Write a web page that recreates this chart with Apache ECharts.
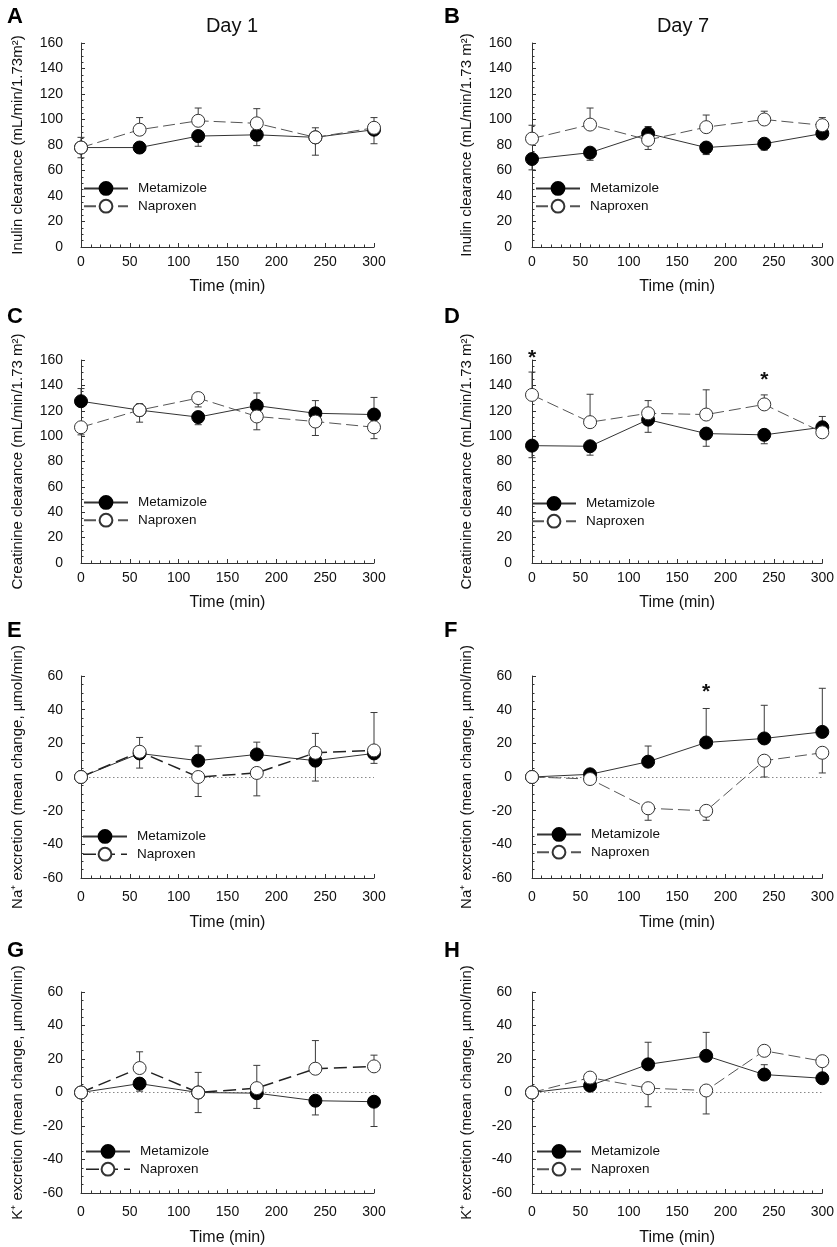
<!DOCTYPE html>
<html>
<head>
<meta charset="utf-8">
<script src="https://cdn.jsdelivr.net/npm/echarts@6/dist/echarts.min.js"></script>
<style>
html,body{margin:0;padding:0;background:#fff;}
#chart{width:837px;height:1247px;}
</style>
</head>
<body>
<div id="chart"></div>
<script>
// ---- data ----
const times = [0, 60, 120, 180, 240, 300];
const seriesNames = ['Metamizole', 'Naproxen'];
const panelLetters = ['A', 'B', 'C', 'D', 'E', 'F', 'G', 'H'];
const dayTitles = ['Day 1', 'Day 7'];
const yNames = [
  'Inulin clearance (mL/min/1.73m²)',
  'Inulin clearance (mL/min/1.73 m²)',
  'Creatinine clearance (mL/min/1.73 m²)',
  'Creatinine clearance (mL/min/1.73 m²)',
  'Na⁺ excretion (mean change, µmol/min)',
  'Na⁺ excretion (mean change, µmol/min)',
  'K⁺ excretion (mean change, µmol/min)',
  'K⁺ excretion (mean change, µmol/min)'
];
const xName = 'Time (min)';

// Panel A: inulin clearance, day 1
const metA = [78, 78, 87, 88, 86, 92];
const napA = [78, 92, 99, 97, 86, 93.5];
const metAErr = [70, 75, 79, 79.5, 72, 81];
const napAErr = [86, 101.5, 109, 108.5, 93.5, 101.5];
// Panel B: inulin clearance, day 7
const metB = [69, 74, 89, 78, 81, 89];
const napB = [85, 96, 84, 94, 100, 95.5];
const metBErr = [60.5, 68, 94.5, 72.5, 76, 85];
const napBErr = [95.5, 109, 76.5, 103.5, 106.5, 101.5];
// Panel C: creatinine clearance, day 1
const metC = [127.5, 120.5, 115, 124, 118, 117];
const napC = [107, 120.5, 130, 115.5, 111.5, 107];
const metCErr = [137.5, 111, 109, 134, 128, 130.5];
const napCErr = [101, 125.5, 123, 105, 100.5, 98];
// Panel D: creatinine clearance, day 7
const metD = [92.5, 92, 113, 102, 101, 107];
const napD = [132.5, 111, 118, 117, 125, 103];
const metDErr = [83, 85, 103, 92, 94, 115.5];
const napDErr = [150.5, 133, 128, 136.5, 132.5, 103];
// Panel E: Na+ excretion, day 1
const metE = [0, 14, 9.7, 13.4, 9.7, 14];
const napE = [0, 15, 0, 2.4, 14.4, 15.8];
const metEErr = [0, 5.3, 18.4, 20.7, -2.4, 8.1];
const napEErr = [0, 23.5, -11.6, -11.2, 25.9, 38.3];
// Panel F: Na+ excretion, day 7
const metF = [0, 1.6, 9.1, 20.5, 22.9, 26.8];
const napF = [0, -1.2, -18.6, -20.1, 9.7, 14.4];
const metFErr = [0, 1.6, 18.4, 40.7, 42.6, 52.7];
const napFErr = [0, -1.2, -25.7, -25.7, 0, 2.4];
// Panel G: K+ excretion, day 1
const metG = [0, 5.3, 0, -0.4, -4.9, -5.5];
const napG = [0, 14.6, 0, 2.6, 14.2, 15.6];
const metGErr = [0, 0.8, -12, -9.5, -13.4, -20.3];
const napGErr = [0, 24.3, 12, 16.2, 31, 22.3];
// Panel H: K+ excretion, day 7
const metH = [0, 4.1, 16.8, 21.9, 10.7, 8.5];
const napH = [0, 8.9, 2.6, 1.2, 24.9, 18.7];
const metHErr = [0, 4.1, 30, 35.9, 16.6, 15.6];
const napHErr = [0, 8.9, -8.5, -12.8, 24.9, 18.7];

// significance markers
const starsD = [[0, 161.5], [240, 144]];
const starsF = [[180, 50.3]];

const clearanceRange = [0, 160];
const excretionRange = [-60, 60];

// ---- layout ----
const FONT = 'Liberation Sans, Arial, Helvetica, sans-serif';
const colX = [81, 532];
const plotW = 293;
const rowTop = [43, 360, 676, 992];
const rowH = [204, 203, 202, 202];
const letterTop = [1, 301, 615, 935];
const legendPos = [
  [83, 180], [535, 180], [83, 494], [531, 495],
  [82, 828], [536, 826], [85, 1143], [536, 1143]
];

const panels = [
  {met: metA, nap: napA, metErr: metAErr, napErr: napAErr, range: clearanceRange, stars: []},
  {met: metB, nap: napB, metErr: metBErr, napErr: napBErr, range: clearanceRange, stars: []},
  {met: metC, nap: napC, metErr: metCErr, napErr: napCErr, range: clearanceRange, stars: []},
  {met: metD, nap: napD, metErr: metDErr, napErr: napDErr, range: clearanceRange, stars: starsD},
  {met: metE, nap: napE, metErr: metEErr, napErr: napEErr, range: excretionRange, stars: [], heavy: true},
  {met: metF, nap: napF, metErr: metFErr, napErr: napFErr, range: excretionRange, stars: starsF},
  {met: metG, nap: napG, metErr: metGErr, napErr: napGErr, range: excretionRange, stars: [], heavy: true},
  {met: metH, nap: napH, metErr: metHErr, napErr: napHErr, range: excretionRange, stars: []}
];

function renderErr(params, api) {
  const x = api.value(0), m = api.value(1), e = api.value(2);
  if (m === e) return null;
  const p1 = api.coord([x, m]);
  const p2 = api.coord([x, e]);
  const w = 3.5;
  const st = {stroke: '#3a3a3a', lineWidth: 1};
  return {
    type: 'group',
    children: [
      {type: 'line', shape: {x1: p1[0], y1: p1[1], x2: p2[0], y2: p2[1]}, style: st},
      {type: 'line', shape: {x1: p2[0] - w, y1: p2[1], x2: p2[0] + w, y2: p2[1]}, style: st}
    ]
  };
}

function renderStar(params, api) {
  const p = api.coord([api.value(0), api.value(1)]);
  return {
    type: 'text',
    style: {x: p[0], y: p[1], text: '*', fill: '#111', align: 'center', verticalAlign: 'middle',
      font: 'bold 21px ' + FONT}
  };
}

const grid = [], xAxis = [], yAxis = [], series = [], legend = [], title = [];

panels.forEach((p, i) => {
  const col = i % 2, row = Math.floor(i / 2);
  const excretion = row >= 2;
  grid.push({left: colX[col], top: rowTop[row], width: plotW, height: rowH[row], containLabel: false});
  xAxis.push({
    type: 'value', gridIndex: i, min: 0, max: 300, interval: 50,
    name: xName, nameLocation: 'middle', nameGap: excretion ? 37 : 32,
    nameTextStyle: {fontSize: 16, color: '#111', fontFamily: FONT},
    axisLine: {onZero: false, lineStyle: {color: '#333', width: 1}},
    axisTick: {show: true, inside: true, length: 4, lineStyle: {color: '#333'}},
    minorTick: {show: true, splitNumber: 5, length: 2.5, lineStyle: {color: '#333'}},
    axisLabel: {fontSize: 14, color: '#111', margin: excretion ? 12 : 8, fontFamily: FONT},
    splitLine: {show: false}
  });
  yAxis.push({
    type: 'value', gridIndex: i, min: p.range[0], max: p.range[1], interval: 20,
    offset: col === 0 ? 14 : 16,
    name: yNames[i], nameLocation: 'middle', nameGap: 42,
    nameTextStyle: {fontSize: 15, color: '#111', fontFamily: FONT},
    axisLine: {show: true, lineStyle: {color: '#333', width: 1}},
    axisTick: {show: true, inside: true, length: 4, lineStyle: {color: '#333'}},
    minorTick: {show: true, splitNumber: 4, length: 2.5, lineStyle: {color: '#333'}},
    axisLabel: {fontSize: 14, color: '#111', margin: 4, fontFamily: FONT},
    splitLine: {show: false}
  });

  const napLine = p.heavy
    ? {color: '#222', width: 1.5, type: [13, 6]}
    : {color: '#555', width: 1, type: [12, 5]};

  // error bars (behind markers)
  series.push({
    type: 'custom', name: 'Metamizole SE', xAxisIndex: i, yAxisIndex: i, z: 1, clip: false, silent: true,
    renderItem: renderErr, data: times.map((t, k) => [t, p.met[k], p.metErr[k]])
  });
  series.push({
    type: 'custom', name: 'Naproxen SE', xAxisIndex: i, yAxisIndex: i, z: 1, clip: false, silent: true,
    renderItem: renderErr, data: times.map((t, k) => [t, p.nap[k], p.napErr[k]])
  });

  const metSeries = {
    type: 'line', name: seriesNames[0], xAxisIndex: i, yAxisIndex: i, z: 3,
    data: times.map((t, k) => [t, p.met[k]]),
    symbol: 'circle', symbolSize: 13, showAllSymbol: true,
    lineStyle: {color: '#333', width: 1},
    itemStyle: {color: '#000', borderColor: '#000', borderWidth: 1}
  };
  if (excretion) {
    metSeries.markLine = {
      silent: true, symbol: ['none', 'none'], label: {show: false},
      lineStyle: {color: '#888', type: [1.5, 2.5], width: 1},
      data: [{yAxis: 0}], z: 0
    };
  }
  series.push(metSeries);
  series.push({
    type: 'line', name: seriesNames[1], xAxisIndex: i, yAxisIndex: i, z: 4,
    data: times.map((t, k) => [t, p.nap[k]]),
    symbol: 'circle', symbolSize: 13, showAllSymbol: true,
    lineStyle: napLine,
    itemStyle: {color: '#fff', borderColor: '#333', borderWidth: 1}
  });
  if (p.stars.length) {
    series.push({
      type: 'custom', name: 'sig', xAxisIndex: i, yAxisIndex: i, z: 5, silent: true, clip: false,
      renderItem: renderStar, data: p.stars
    });
  }

  legend.push({
    orient: 'vertical', left: legendPos[i][0], top: legendPos[i][1] + 1, padding: 0,
    itemWidth: 44, itemHeight: 16, itemGap: 3, selectedMode: false,
    textStyle: {fontSize: 13.5, color: '#111', fontFamily: FONT, padding: [0, 0, 0, 5]},
    data: p.heavy
      ? [seriesNames[0], {name: seriesNames[1], lineStyle: napLine}]
      : seriesNames.slice()
  });

  title.push({
    text: panelLetters[i], left: col === 0 ? 2 : 439, top: letterTop[row],
    textStyle: {fontSize: 22, fontWeight: 'bold', color: '#000', fontFamily: FONT}
  });
});

title.push({text: dayTitles[0], left: 227, top: 11, textAlign: 'center',
  textStyle: {fontSize: 20, fontWeight: 'normal', color: '#111', fontFamily: FONT}});
title.push({text: dayTitles[1], left: 678, top: 11, textAlign: 'center',
  textStyle: {fontSize: 20, fontWeight: 'normal', color: '#111', fontFamily: FONT}});

const chart = echarts.init(document.getElementById('chart'), null, {renderer: 'canvas'});
chart.setOption({
  animation: false,
  backgroundColor: '#fff',
  textStyle: {fontFamily: FONT},
  title, grid, xAxis, yAxis, series, legend
});
</script>
</body>
</html>
